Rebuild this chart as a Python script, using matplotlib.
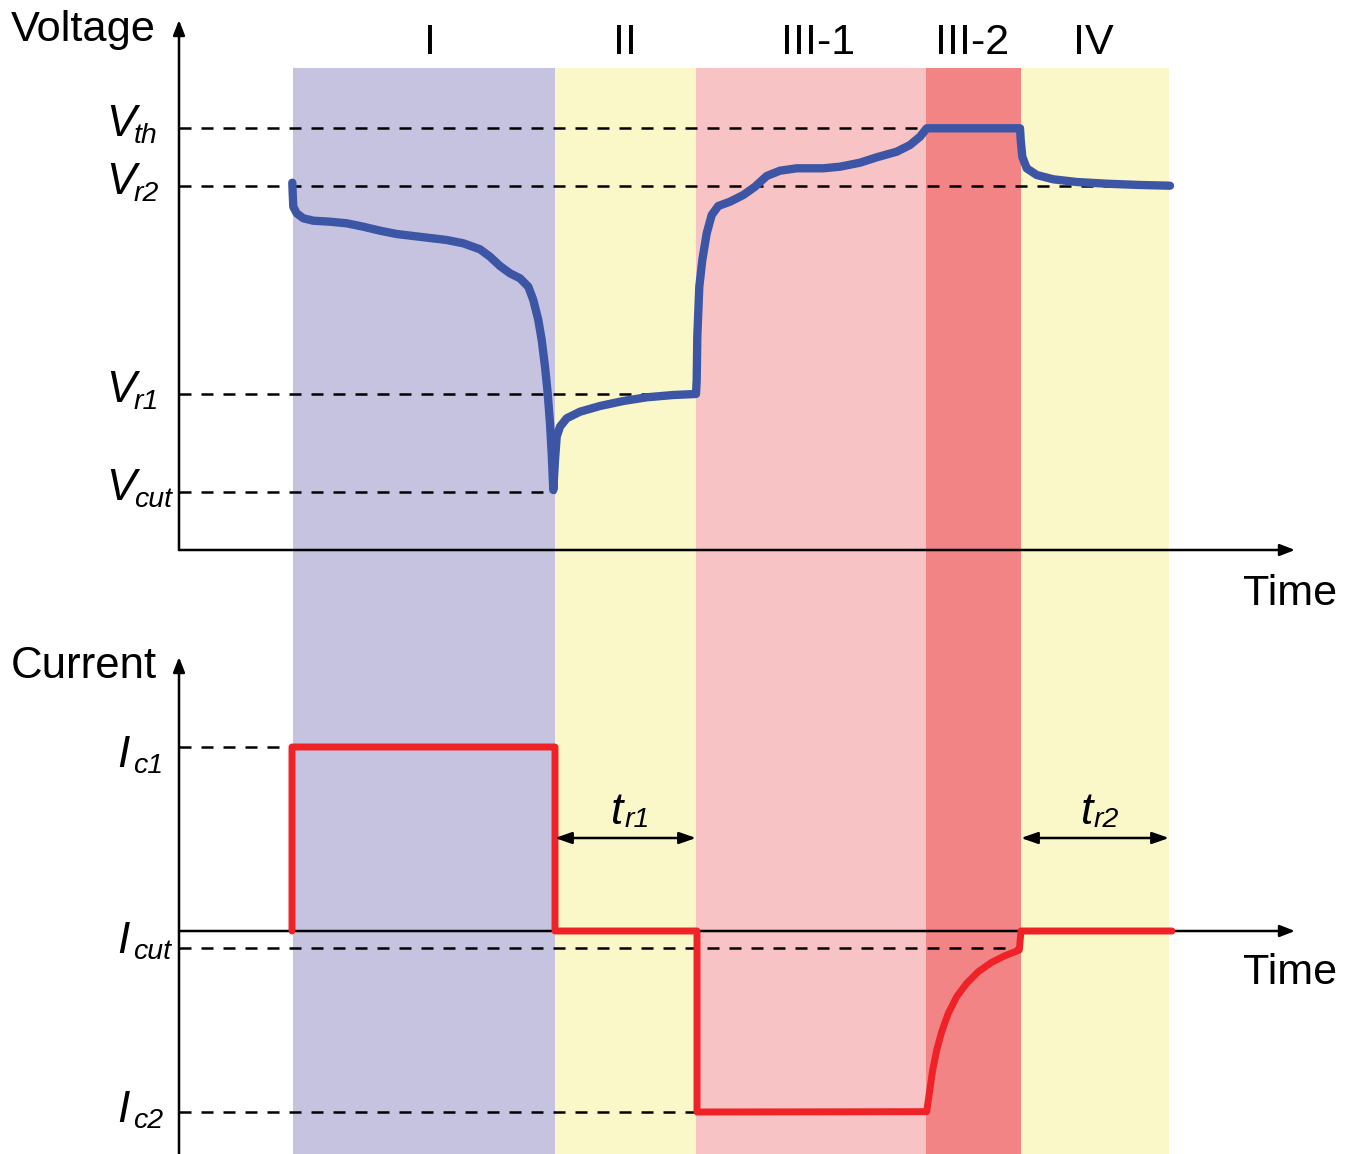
import matplotlib
matplotlib.use('Agg')
import matplotlib.pyplot as plt

plt.rcParams['font.family'] = ['Liberation Sans', 'DejaVu Sans']

# phase boundaries (time units) and band colours
phase_edges = [1.14, 3.76, 5.17, 7.47, 8.42, 9.90]
phase_names = ['I', 'II', 'III-1', 'III-2', 'IV']
phase_label_t = [2.51, 4.46, 6.39, 7.93, 9.14]
phase_colors = ['#c5c3e0', '#faf8c8', '#f8c3c5', '#f28485', '#faf8c8']

# voltage curve
v_time = [1.133, 1.137, 1.143, 1.177, 1.243, 1.343, 1.51, 1.677, 1.843, 2.01, 2.177,
          2.343, 2.51, 2.677, 2.843, 3.01, 3.11, 3.21, 3.31, 3.41, 3.493, 3.543,
          3.593, 3.627, 3.66, 3.687, 3.71, 3.727, 3.743,
          3.76, 3.777, 3.81, 3.877, 4.01, 4.21, 4.443, 4.677, 4.943, 5.17,
          5.177, 5.183, 5.203, 5.233, 5.277, 5.327, 5.393, 5.51, 5.643, 5.76, 5.877,
          6.01, 6.177, 6.443, 6.61, 6.81, 6.977, 7.177, 7.31, 7.41, 7.477,
          8.41, 8.417, 8.433, 8.477, 8.577, 8.743, 8.977, 9.277, 9.61, 9.91]
v_vals = [3.673, 3.567, 3.433, 3.367, 3.317, 3.293, 3.283, 3.267, 3.233, 3.193, 3.16,
          3.14, 3.12, 3.10, 3.067, 3.007, 2.933, 2.84, 2.767, 2.717, 2.633, 2.50,
          2.30, 2.10, 1.833, 1.567, 1.267, 0.967, 0.60,
          0.90, 1.133, 1.233, 1.317, 1.383, 1.44, 1.49, 1.527, 1.55, 1.56,
          1.70, 2.133, 2.633, 2.90, 3.167, 3.35, 3.44, 3.483, 3.55, 3.633, 3.74,
          3.793, 3.817, 3.817, 3.833, 3.873, 3.927, 3.983, 4.05, 4.133, 4.217,
          4.217, 4.10, 3.933, 3.817, 3.75, 3.707, 3.68, 3.663, 3.65, 3.643]

# current curve
i_time = [1.13, 1.13, 3.76, 3.76, 5.18, 5.18, 7.477, 7.503, 7.537, 7.577, 7.627,
          7.693, 7.777, 7.877, 7.993, 8.127, 8.26, 8.403, 8.42, 9.93]
i_vals = [0, 1.84, 1.84, 0, 0, -1.81, -1.807, -1.623, -1.39, -1.19, -1.007,
          -0.823, -0.657, -0.523, -0.407, -0.313, -0.247, -0.19, 0, 0]

# reference levels: name, value, end time of dashed guide
v_levels = [('th', 4.22, 7.47), ('r2', 3.64, 9.93), ('r1', 1.56, 5.17), ('cut', 0.58, 3.76)]
i_levels = [('c1', 1.84, 1.13), ('cut', -0.17, 8.42), ('c2', -1.81, 5.18)]

blue = '#3c55a5'
red = '#ee2227'

fig = plt.figure(figsize=(13.54, 11.54), dpi=100)
ax1 = fig.add_axes([0, 1 - 610 / 1154, 1, 610 / 1154])
ax2 = fig.add_axes([0, 0, 1, 544 / 1154])
for ax in (ax1, ax2):
    ax.set_xlim(-1.79, 11.75)
    ax.axis('off')
ax1.set_ylim(-0.6, 5.5)
ax2.set_ylim(-2.23, 3.21)

# background bands
for i in range(5):
    ax1.fill_between([phase_edges[i], phase_edges[i + 1]], -0.6, 4.82,
                     color=phase_colors[i], lw=0, zorder=0)
    ax2.axvspan(phase_edges[i], phase_edges[i + 1], color=phase_colors[i], lw=0, zorder=0)
    ax1.text(phase_label_t[i], 5.07, phase_names[i], fontsize=31, ha='center', va='center')

# axes with arrows
arrow = dict(arrowstyle='-|>,head_length=0.9,head_width=0.35', color='black', lw=1.8,
             shrinkA=0, shrinkB=0)
ax1.annotate('', xy=(0, 5.3), xytext=(0, 0), arrowprops=arrow)
ax1.annotate('', xy=(11.16, 0), xytext=(0, 0), arrowprops=arrow)
ax2.annotate('', xy=(0, 2.74), xytext=(0, -2.23), arrowprops=arrow)
ax2.annotate('', xy=(11.16, 0), xytext=(0, 0), arrowprops=arrow)

ax1.text(-0.235, 5.2, 'Voltage', fontsize=31.2, ha='right', va='center')
ax2.text(-0.22, 2.64, 'Current', fontsize=31.5, ha='right', va='center')
ax1.text(11.11, -0.44, 'Time', fontsize=31, ha='center', va='center')
ax2.text(11.11, -0.42, 'Time', fontsize=31, ha='center', va='center')

# dashed guides and labels (letter + smaller italic subscript)
for name, val, tend in v_levels:
    ax1.plot([0, tend], [val, val], color='black', lw=1.8, dashes=(4.8, 4), zorder=2)
    ax1.text(-0.73, val - 0.085, 'V', fontsize=32, style='italic', ha='left', va='baseline')
    ax1.text(-0.45, val - 0.15, name, fontsize=20.5, style='italic', ha='left',
             va='baseline')
i_label_y = {'c1': -0.20, 'cut': -0.05, 'c2': -0.10}
for name, val, tend in i_levels:
    ax2.plot([0, tend], [val, val], color='black', lw=1.8, dashes=(4.8, 4), zorder=2)
    ax2.text(-0.615, val + i_label_y[name], 'I', fontsize=32, style='italic',
             ha='left', va='baseline')
    ax2.text(-0.46, val + i_label_y[name] - 0.06, name, fontsize=20.5, style='italic',
             ha='left', va='baseline')

ax1.plot(v_time, v_vals, color=blue, lw=6, solid_joinstyle='round',
         solid_capstyle='round', zorder=3)
ax2.plot(i_time, i_vals, color=red, lw=5, solid_joinstyle='round',
         solid_capstyle='round', zorder=3)

# relaxation time arrows
darrow = dict(arrowstyle='<|-|>,head_length=1.0,head_width=0.35', color='black', lw=1.8,
              shrinkA=0, shrinkB=0)
for (t0, t1), lab in [((3.76, 5.17), '1'), ((8.42, 9.90), '2')]:
    ax2.annotate('', xy=(t1, 0.93), xytext=(t0, 0.93), arrowprops=darrow, zorder=4)
    ax2.text((t0 + t1) / 2 - 0.08, 1.18, 't', fontsize=32, style='italic',
             ha='center', va='center')
    ax2.text((t0 + t1) / 2 - 0.01, 1.04, 'r' + lab, fontsize=20.5, style='italic',
             ha='left', va='baseline')

fig.savefig('out.png', dpi=100)
